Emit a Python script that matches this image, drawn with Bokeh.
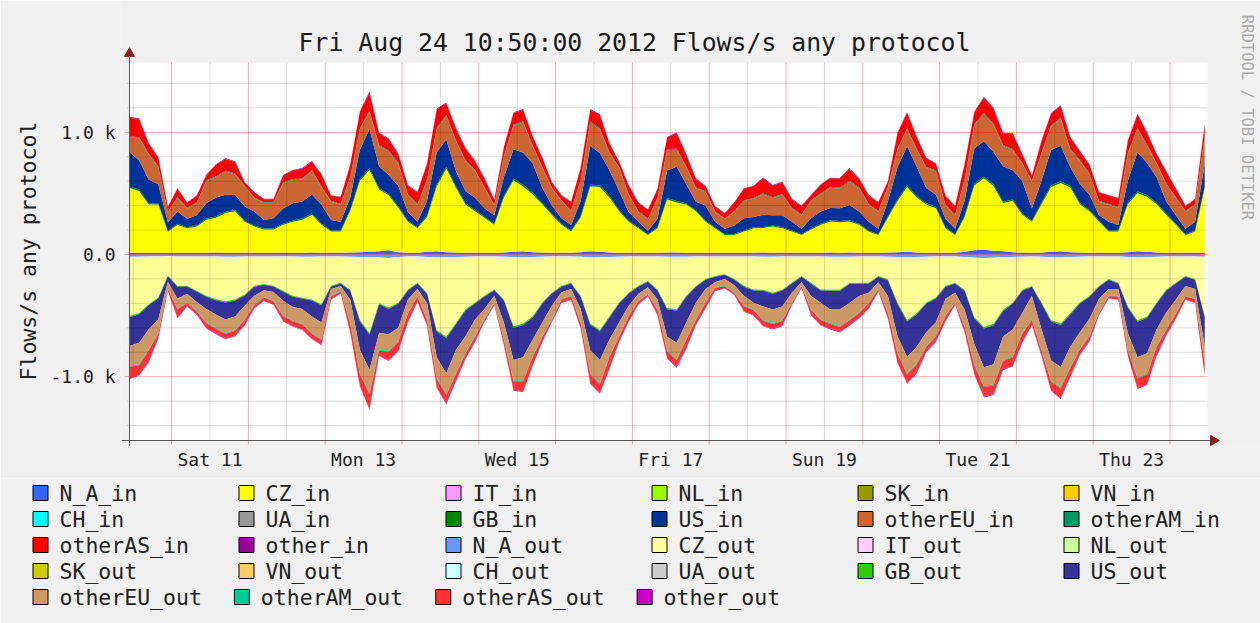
import math
from bokeh.plotting import figure
from bokeh.models import ColumnDataSource, FixedTicker, Range1d, Title
from bokeh.layouts import column
from bokeh.core.properties import value
from bokeh.embed import file_html
from bokeh.resources import INLINE

FONT = "DejaVu Sans Mono"

# ---------------- data (3-hour samples, Fri Aug 10 10:50 -> Fri Aug 24 10:50, 2012) -------------
# x = hours since Sat Aug 11 00:00
start_hour = -13 - 10 / 60
hours = [start_hour + 3 * k for k in range(113)]

N_A_in = [14, 14, 14, 14, 12, 14, 14, 14, 14, 16, 14, 14, 14, 14, 14, 14, 14, 14, 14, 16, 14, 14, 14, 16,
          18, 22, 26, 34, 18, 14, 14, 22, 26, 18, 16, 14, 14, 14, 14, 16, 22, 26, 18, 16, 14, 14, 14, 18,
          26, 22, 16, 14, 14, 14, 14, 14, 16, 16, 14, 14, 14, 14, 14, 14, 14, 14, 16, 14, 14, 14, 14, 14,
          14, 16, 14, 16, 14, 14, 14, 16, 18, 22, 16, 14, 14, 14, 14, 22, 34, 38, 30, 26, 18, 16, 14, 16,
          22, 26, 18, 16, 14, 14, 14, 14, 18, 26, 22, 16, 14, 14, 14, 14, 16]
CZ_in = [530, 505, 395, 395, 175, 230, 200, 215, 270, 285, 325, 340, 255, 215, 190, 190,
         230, 255, 270, 310, 230, 175, 175, 340, 585, 670, 505, 450, 365, 255, 200, 285,
         530, 685, 530, 395, 340, 285, 230, 450, 585, 530, 475, 395, 310, 230, 175, 285,
         530, 530, 450, 340, 255, 200, 145, 200, 435, 410, 395, 340, 255, 200, 145, 145,
         175, 200, 200, 215, 200, 175, 145, 190, 230, 255, 250, 255, 230, 175, 145, 285,
         420, 530, 450, 395, 365, 200, 145, 285, 530, 585, 530, 395, 420, 310, 255, 395,
         530, 560, 530, 395, 340, 255, 175, 175, 395, 475, 450, 395, 310, 230, 145, 175, 530]
GB_in = [12, 12, 10, 10, 6, 8, 8, 8, 10, 10, 10, 10, 8, 8, 8, 8, 8, 10, 10, 10, 10, 8, 8, 10,
         14, 14, 12, 12, 10, 8, 8, 10, 14, 14, 12, 10, 10, 8, 8, 12, 14, 14, 12, 10, 8, 8, 8, 10,
         14, 14, 12, 10, 8, 8, 6, 8, 12, 12, 10, 8, 8, 8, 6, 8, 8, 8, 10, 8, 8, 8, 6, 8,
         8, 10, 10, 10, 8, 8, 6, 10, 12, 14, 12, 10, 10, 8, 6, 10, 14, 14, 14, 12, 12, 10, 8, 12,
         14, 14, 12, 10, 10, 8, 8, 8, 12, 14, 12, 10, 10, 8, 6, 8, 12]
US_in = [280, 240, 195, 155, 70, 100, 70, 85, 125, 155, 140, 125, 115, 115, 70, 85,
         125, 140, 140, 155, 155, 85, 70, 100, 240, 320, 180, 155, 170, 70, 45, 125,
         265, 225, 125, 100, 100, 70, 70, 155, 240, 265, 240, 125, 70, 45, 45, 125,
         320, 265, 210, 155, 70, 45, 30, 70, 225, 280, 155, 70, 125, 45, 45, 70,
         100, 85, 100, 85, 100, 70, 45, 85, 100, 100, 105, 125, 100, 70, 45, 125,
         265, 320, 240, 125, 100, 70, 45, 125, 290, 290, 265, 290, 240, 265, 100, 180,
         290, 290, 155, 155, 125, 45, 70, 45, 180, 320, 265, 210, 100, 70, 45, 70, 180]
otherEU_in = [125, 180, 205, 140, 80, 110, 85, 95, 180, 165, 190, 165, 165, 110, 140, 125,
              205, 190, 180, 190, 140, 150, 140, 165, 165, 140, 165, 190, 180, 140, 140, 165,
              190, 190, 245, 245, 220, 165, 80, 165, 190, 245, 140, 165, 140, 140, 110, 165,
              190, 190, 140, 190, 140, 80, 95, 165, 165, 140, 140, 110, 110, 80, 80, 110,
              140, 150, 165, 140, 165, 110, 110, 140, 140, 165, 160, 190, 190, 140, 140, 110,
              140, 140, 140, 165, 190, 110, 110, 165, 190, 220, 220, 165, 165, 140, 220, 220,
              190, 220, 140, 190, 165, 110, 140, 140, 220, 190, 140, 110, 140, 140, 140, 140, 220]
otherAM_in = [8, 8, 8, 8, 5, 6, 6, 6, 8, 8, 8, 8, 6, 6, 6, 6, 8, 8, 8, 8, 8, 6, 6, 8,
              10, 10, 8, 8, 8, 6, 6, 8, 10, 10, 8, 8, 8, 6, 6, 8, 10, 10, 8, 8, 6, 6, 6, 8,
              10, 10, 8, 8, 6, 6, 5, 6, 8, 10, 8, 6, 6, 6, 5, 6, 6, 6, 8, 6, 8, 6, 5, 6,
              8, 8, 8, 8, 8, 6, 5, 8, 10, 10, 8, 8, 8, 6, 5, 8, 10, 10, 10, 8, 8, 8, 6, 8,
              10, 10, 8, 8, 8, 6, 6, 6, 8, 10, 10, 8, 8, 6, 5, 6, 8]
otherAS_in = [150, 150, 80, 70, 40, 70, 40, 55, 40, 95, 95, 95, 25, 40, 25, 25,
              55, 70, 80, 70, 95, 40, 55, 95, 135, 150, 95, 95, 70, 70, 95, 125,
              150, 95, 95, 95, 70, 70, 40, 70, 95, 95, 70, 70, 40, 40, 70, 95,
              95, 110, 70, 40, 70, 70, 70, 70, 95, 125, 95, 70, 40, 40, 40, 70,
              95, 95, 125, 95, 95, 70, 70, 40, 70, 70, 75, 95, 70, 70, 70, 40,
              125, 125, 95, 70, 55, 70, 70, 125, 95, 125, 125, 95, 125, 70, 40, 95,
              95, 95, 95, 70, 70, 70, 70, 70, 95, 110, 95, 70, 95, 70, 40, 40, 95]
other_in = [6, 6, 5, 5, 4, 4, 4, 5, 5, 5, 6, 6, 5, 4, 4, 4, 5, 5, 5, 6, 6, 4, 4, 5,
            6, 8, 6, 6, 5, 5, 5, 6, 8, 6, 6, 6, 5, 5, 4, 5, 6, 6, 6, 5, 5, 4, 4, 6,
            6, 6, 6, 5, 5, 4, 4, 5, 6, 6, 6, 5, 5, 4, 4, 4, 5, 5, 6, 5, 5, 5, 4, 5,
            5, 5, 5, 6, 5, 5, 4, 5, 6, 6, 6, 5, 5, 4, 4, 6, 6, 8, 6, 6, 6, 5, 5, 6,
            6, 6, 6, 5, 5, 4, 4, 4, 6, 6, 6, 5, 5, 4, 4, 4, 6]

N_A_out = [18, 18, 17, 17, 14, 16, 16, 16, 17, 17, 18, 18, 17, 16, 16, 16, 17, 17, 18, 18, 17, 16, 16, 18,
           20, 22, 24, 28, 20, 17, 16, 20, 24, 22, 20, 18, 17, 16, 16, 18, 22, 24, 20, 18, 17, 16, 16, 18,
           24, 22, 20, 18, 17, 16, 16, 17, 18, 18, 18, 17, 16, 16, 16, 16, 16, 17, 18, 18, 17, 16, 16, 17,
           17, 18, 18, 18, 17, 16, 16, 18, 20, 22, 20, 18, 17, 16, 16, 20, 26, 28, 26, 22, 20, 18, 17, 18,
           22, 24, 20, 18, 17, 16, 16, 16, 20, 24, 22, 18, 17, 16, 16, 16, 18]
CZ_out = [485, 460, 390, 335, 160, 240, 240, 280, 320, 350, 365, 350, 310, 240, 225, 240,
          280, 320, 335, 350, 390, 240, 215, 270, 515, 620, 375, 405, 375, 270, 215, 295,
          595, 650, 540, 430, 375, 320, 270, 350, 565, 540, 485, 375, 295, 240, 215, 320,
          540, 595, 485, 375, 295, 240, 200, 270, 420, 430, 320, 240, 185, 160, 145, 185,
          240, 270, 270, 295, 270, 215, 160, 215, 270, 270, 270, 215, 215, 215, 160, 185,
          375, 515, 460, 375, 335, 240, 215, 270, 485, 565, 540, 430, 375, 270, 240, 375,
          515, 540, 460, 375, 320, 240, 185, 215, 405, 515, 485, 375, 270, 215, 160, 185, 485]
GB_out = [10, 10, 9, 8, 5, 7, 6, 7, 8, 8, 9, 9, 8, 7, 6, 6, 7, 8, 8, 9, 9, 6, 6, 8,
          11, 12, 9, 10, 9, 7, 6, 8, 12, 12, 11, 10, 9, 8, 7, 9, 12, 12, 10, 9, 8, 7, 6, 8,
          11, 12, 10, 9, 8, 7, 6, 7, 10, 10, 8, 7, 6, 6, 5, 6, 7, 8, 8, 8, 8, 7, 6, 7,
          8, 8, 8, 8, 7, 7, 6, 7, 10, 11, 10, 9, 8, 7, 6, 8, 11, 12, 12, 10, 9, 8, 7, 9,
          11, 12, 10, 9, 8, 7, 6, 7, 10, 11, 11, 9, 8, 7, 6, 6, 10]
US_out = [235, 235, 195, 170, 45, 100, 60, 85, 100, 115, 140, 130, 85, 75, 45, 45,
          75, 85, 85, 130, 140, 20, 20, 75, 235, 290, 235, 210, 195, 75, 45, 75,
          210, 290, 210, 210, 130, 100, 45, 180, 265, 265, 180, 155, 100, 45, 45, 100,
          210, 235, 180, 155, 100, 60, 45, 75, 225, 265, 210, 130, 75, 45, 35, 45,
          75, 100, 130, 130, 130, 75, 45, 100, 100, 155, 155, 155, 100, 75, 45, 130,
          265, 290, 265, 235, 195, 100, 75, 155, 210, 320, 320, 210, 210, 180, 75, 210,
          320, 345, 265, 235, 180, 100, 75, 45, 210, 290, 290, 210, 180, 130, 75, 75, 235]
otherEU_out = [165, 175, 165, 110, 55, 80, 70, 70, 110, 110, 110, 110, 110, 70, 55, 70,
               120, 110, 120, 135, 135, 55, 40, 190, 190, 190, 135, 135, 110, 110, 55, 135,
               165, 165, 190, 135, 135, 80, 55, 135, 165, 190, 135, 110, 110, 55, 55, 110,
               190, 190, 135, 110, 80, 55, 55, 80, 110, 135, 135, 135, 110, 40, 55, 55,
               80, 55, 110, 110, 110, 80, 25, 110, 135, 110, 135, 135, 135, 80, 55, 135,
               135, 135, 135, 110, 110, 135, 80, 135, 165, 150, 165, 190, 220, 165, 190, 165,
               165, 165, 165, 135, 135, 110, 55, 55, 135, 165, 165, 135, 135, 110, 80, 80, 135]
otherAM_out = [8, 8, 7, 6, 4, 6, 5, 6, 7, 7, 7, 7, 6, 5, 5, 5, 6, 6, 7, 7, 7, 5, 5, 7,
               9, 10, 8, 8, 7, 6, 5, 7, 9, 10, 9, 8, 7, 6, 5, 7, 9, 9, 8, 7, 6, 5, 5, 7,
               9, 9, 8, 7, 6, 5, 5, 6, 8, 8, 7, 6, 5, 5, 4, 5, 6, 6, 7, 7, 7, 6, 5, 6,
               7, 7, 7, 7, 6, 6, 5, 6, 8, 9, 8, 7, 7, 6, 5, 7, 9, 10, 10, 8, 8, 7, 6, 8,
               9, 10, 8, 7, 7, 6, 5, 5, 8, 9, 9, 8, 7, 6, 5, 5, 8]
otherAS_out = [95, 80, 95, 40, 15, 70, 25, 25, 40, 40, 40, 40, 40, 25, 25, 25,
               40, 40, 40, 40, 40, 25, 15, 70, 95, 120, 40, 70, 70, 70, 40, 40,
               70, 70, 55, 40, 40, 15, 15, 40, 70, 80, 70, 40, 15, 25, 25, 40,
               70, 70, 95, 40, 40, 25, 15, 40, 55, 55, 70, 40, 40, 25, 15, 15,
               40, 40, 40, 40, 40, 15, 15, 40, 40, 40, 40, 40, 40, 40, 15, 40,
               70, 70, 70, 40, 40, 40, 15, 40, 70, 80, 70, 70, 70, 70, 40, 40,
               70, 80, 70, 40, 40, 15, 15, 25, 40, 80, 80, 70, 40, 40, 25, 25, 95]
other_out = [5, 5, 5, 4, 3, 4, 4, 4, 4, 5, 5, 5, 4, 4, 3, 4, 4, 4, 5, 5, 5, 4, 3, 5,
             6, 7, 5, 5, 5, 4, 4, 5, 6, 6, 6, 5, 5, 4, 3, 5, 6, 6, 5, 5, 4, 4, 3, 5,
             6, 6, 5, 5, 4, 4, 3, 4, 5, 5, 5, 4, 4, 3, 3, 4, 4, 4, 5, 5, 5, 4, 3, 4,
             4, 5, 5, 5, 4, 4, 3, 4, 5, 6, 5, 5, 5, 4, 3, 5, 6, 6, 6, 5, 5, 5, 4, 5,
             6, 6, 5, 5, 5, 4, 3, 3, 5, 6, 6, 5, 5, 4, 3, 4, 5]

legend_names = ["N_A_in", "CZ_in", "IT_in", "NL_in", "SK_in", "VN_in",
                "CH_in", "UA_in", "GB_in", "US_in", "otherEU_in", "otherAM_in",
                "otherAS_in", "other_in", "N_A_out", "CZ_out", "IT_out", "NL_out",
                "SK_out", "VN_out", "CH_out", "UA_out", "GB_out", "US_out",
                "otherEU_out", "otherAM_out", "otherAS_out", "other_out"]
legend_colors = ["#3366FF", "#FFFF00", "#FF99FF", "#99FF00", "#999900", "#FFCC00",
                 "#00FFFF", "#999999", "#008800", "#003399", "#CC6633", "#009966",
                 "#FF0000", "#990099", "#6699FF", "#FFFF99", "#FFCCFF", "#CCFF99",
                 "#CCCC00", "#FFCC66", "#CCFFFF", "#CCCCCC", "#33CC00", "#333399",
                 "#CC9966", "#00CC99", "#FF3333", "#CC00CC"]
color_of = dict(zip(legend_names, legend_colors))

title_text = "Fri Aug 24 10:50:00 2012 Flows/s any protocol"
y_label = "Flows/s any protocol"
day_labels = ["Sat 11", "Mon 13", "Wed 15", "Fri 17", "Sun 19", "Tue 21", "Thu 23"]
label_hours = [12, 60, 108, 156, 204, 252, 300]
y_major = [-1000, 0, 1000]
y_major_labels = ["-1.0 k", "0.0", "1.0 k"]
watermark = "RRDTOOL / TOBI OETIKER"

in_series = {"N_A_in": N_A_in, "CZ_in": CZ_in, "GB_in": GB_in, "US_in": US_in,
             "otherEU_in": otherEU_in, "otherAM_in": otherAM_in,
             "otherAS_in": otherAS_in, "other_in": other_in}
out_series = {"N_A_out": N_A_out, "CZ_out": CZ_out, "GB_out": GB_out, "US_out": US_out,
              "otherEU_out": otherEU_out, "otherAM_out": otherAM_out,
              "otherAS_out": otherAS_out, "other_out": other_out}
for name, arr in list(in_series.items()) + list(out_series.items()):
    assert len(arr) == len(hours), (name, len(arr))

data = {"t": hours}
for name, arr in in_series.items():
    data[name] = arr
for name, arr in out_series.items():
    data[name] = [-v for v in arr]
src = ColumnDataSource(data)

# ---------------- geometry (page pixels) ----------------
W = 1260
PLOT_L, PLOT_R, PLOT_T, PLOT_B = 129, 1207, 62, 440      # rrdtool canvas area
ZERO_Y = 254
PX_X = 3.2      # px per hour
PX_Y = 0.1222   # px per flow/s
FRAME_L, FRAME_B = 121, 446
MAIN_H = 478

def tx(px):
    return start_hour + (px - PLOT_L) / PX_X

def vy(py):
    return (ZERO_Y - py) / PX_Y

X_END = tx(PLOT_R)
Y_BOT, Y_TOP = vy(PLOT_B), vy(PLOT_T)

p = figure(frame_width=W - FRAME_L, frame_height=FRAME_B,
           x_range=Range1d(tx(FRAME_L), tx(W)), y_range=Range1d(vy(FRAME_B), vy(0)),
           output_backend="svg", toolbar_location=None,
           min_border_left=FRAME_L, min_border_right=0, min_border_top=0,
           min_border_bottom=MAIN_H - FRAME_B,
           background_fill_color="#f0f0f0", border_fill_color="#f0f0f0",
           outline_line_color=None)
p.grid.visible = False
if "frame_align" in p.properties():
    p.frame_align = False

# white canvas
p.quad(left=[start_hour], right=[X_END], bottom=[Y_BOT], top=[Y_TOP],
       fill_color="white", line_color=None)

in_names = list(in_series.keys())
out_names = list(out_series.keys())
p.varea_stack(stackers=in_names, x="t", color=[color_of[n] for n in in_names], source=src)
p.varea_stack(stackers=out_names, x="t", color=[color_of[n] for n in out_names], source=src)

# grid (drawn over the areas, as rrdtool does)
midnights = list(range(0, 313, 24))
noons = list(range(-12, 301, 24))
y_minor = [v for v in range(-1400, 1401, 200) if v not in y_major]
p.segment(x0=noons, y0=[Y_BOT] * len(noons), x1=noons, y1=[Y_TOP] * len(noons),
          line_color="#000000", line_alpha=0.14, line_width=1)
p.segment(x0=midnights, y0=[vy(PLOT_B + 4)] * len(midnights), x1=midnights,
          y1=[Y_TOP] * len(midnights), line_color="#ff0000", line_alpha=0.33, line_width=1)
p.segment(x0=[tx(PLOT_L - 3)] * len(y_minor), y0=y_minor, x1=[X_END] * len(y_minor), y1=y_minor,
          line_color="#000000", line_alpha=0.14, line_width=1)
p.segment(x0=[tx(PLOT_L - 5)] * len(y_major), y0=y_major, x1=[X_END] * len(y_major), y1=y_major,
          line_color="#ff0000", line_alpha=0.33, line_width=1)

# axis lines with arrow heads
p.segment(x0=[tx(FRAME_L), start_hour], y0=[Y_BOT, vy(FRAME_B)],
          x1=[tx(1212), start_hour], y1=[Y_BOT, vy(56)],
          line_color="#555555", line_width=1)
p.scatter(x=[tx(1213), start_hour], y=[Y_BOT, vy(53)], marker="triangle", size=10,
          angle=[-math.pi / 2, 0], fill_color="#8b2020", line_color="#8b2020")

# title and vertical watermark
p.text(x=[tx(634)], y=[vy(42)], text=[title_text], text_align="center",
       text_baseline="alphabetic", text_font=value(FONT), text_font_size=value("24.8px"),
       text_color="#1a1a1a")
p.text(x=[tx(1246)], y=[vy(117)], text=[watermark], angle=-math.pi / 2, text_align="center",
       text_baseline="middle", text_font=value(FONT), text_font_size=value("15.5px"),
       text_color="#ababab")

# axes (labels only, rrdtool style)
xa = p.xaxis[0]
xa.ticker = FixedTicker(ticks=label_hours)
xa.major_label_overrides = dict(zip(label_hours, day_labels))
xa.axis_line_color = None
xa.major_tick_line_color = None
xa.minor_tick_line_color = None
xa.major_tick_out = 0
xa.major_tick_in = 0
xa.minor_tick_out = 0
xa.minor_tick_in = 0
xa.major_label_standoff = 2
xa.major_label_text_font = FONT
xa.major_label_text_font_size = "18px"
xa.major_label_text_color = "#222222"

ya = p.yaxis[0]
ya.ticker = FixedTicker(ticks=y_major)
ya.major_label_overrides = dict(zip(y_major, y_major_labels))
ya.axis_line_color = None
ya.major_tick_line_color = None
ya.minor_tick_line_color = None
ya.major_tick_out = 0
ya.major_tick_in = 0
ya.minor_tick_out = 0
ya.minor_tick_in = 0
ya.major_label_standoff = 6
ya.major_label_text_font = FONT
ya.major_label_text_font_size = "18px"
ya.major_label_text_color = "#222222"

# vertical unit label, centred on the rrdtool canvas (not on the enlarged frame)
p.add_layout(Title(text=y_label, align="left", offset=FRAME_B - 380, standoff=14,
                   text_font=FONT, text_font_size="21.5px", text_font_style="normal",
                   text_color="#222222"), "left")

# ---------------- legend (rrdtool style, below the graph) ----------------
LEG_H = 623 - MAIN_H
leg = figure(width=W, height=LEG_H, x_range=Range1d(0, W), y_range=Range1d(LEG_H, 0),
             output_backend="svg", toolbar_location=None, min_border=0,
             x_axis_type=None, y_axis_type=None,
             background_fill_color="#f0f0f0", border_fill_color="#f0f0f0",
             outline_line_color=None)
leg.grid.visible = False
if "frame_align" in leg.properties():
    leg.frame_align = False

col_left = [32, 238, 445, 651, 857, 1063]
row_y = [492.5, 518.5, 544.5, 570.5, 596.5]
char_w = 21.5 * 0.602
bx, by, tx_leg, cols, labs = [], [], [], [], []
for i, name in enumerate(legend_names):
    r = i // 6
    if r < 4 or i % 6 == 0:
        left = col_left[i % 6]
    else:
        left = (bx[-1] - 8) + 27 + len(legend_names[i - 1]) * char_w + 32
    bx.append(left + 8)
    by.append(row_y[r] - MAIN_H)
    tx_leg.append(left + 27)
    cols.append(legend_colors[i])
    labs.append(name)

leg.rect(x=bx, y=by, width=15, height=15, fill_color=cols, line_color="#000000", line_width=1)
leg.text(x=tx_leg, y=by, text=labs, text_font=value(FONT), text_font_size=value("21.5px"),
         text_baseline="middle", text_align="left", text_color="#222222")

layout = column(p, leg, spacing=0)
open("out.html", "w").write(file_html(layout, INLINE))
